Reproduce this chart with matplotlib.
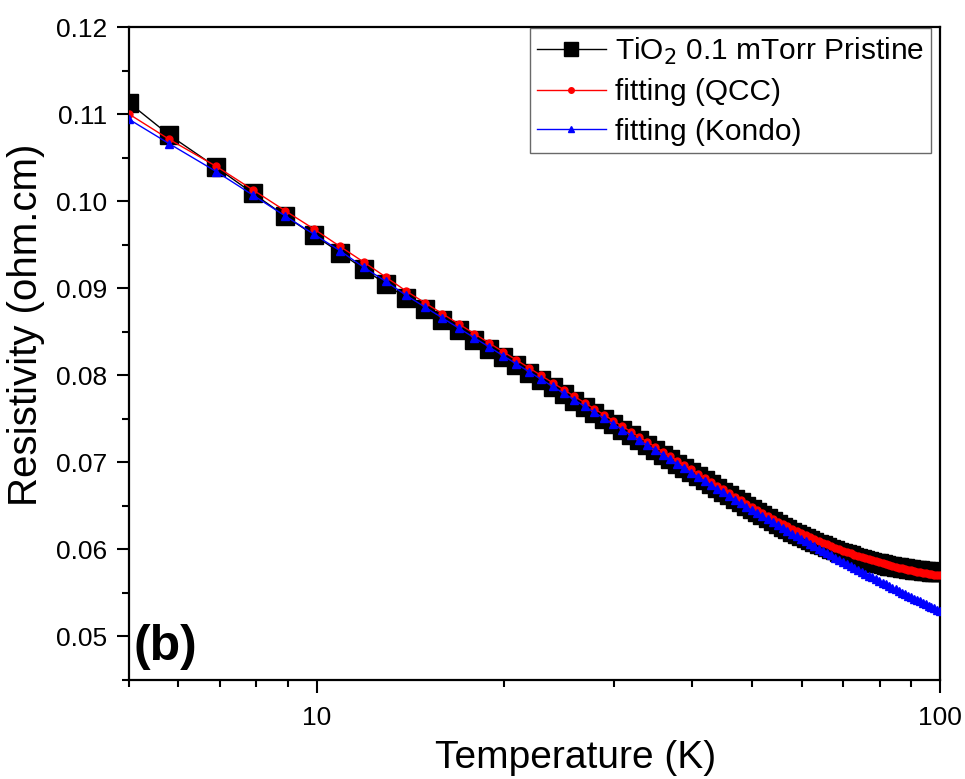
import matplotlib
matplotlib.use("Agg")
import matplotlib.pyplot as plt
from matplotlib.ticker import FixedLocator, NullFormatter

plt.rcParams['font.family'] = ['Liberation Sans', 'DejaVu Sans']

# temperatures (K), same grid for data and both fits
temps = [5.0, 5.8, 6.9, 7.9, 8.9, 9.9, 10.9, 11.9, 12.9, 13.9,
         14.9, 15.9, 16.9, 17.9, 18.9, 19.9, 20.9, 21.9, 22.9, 23.9,
         24.9, 25.9, 26.9, 27.9, 28.9, 29.9, 30.9, 31.9, 32.9, 33.9,
         34.9, 35.9, 36.9, 37.9, 38.9, 39.9, 40.9, 41.9, 42.9, 43.9,
         44.9, 45.9, 46.9, 47.9, 48.9, 49.9, 50.9, 51.9, 52.9, 53.9,
         54.9, 55.9, 56.9, 57.9, 58.9, 59.9, 60.9, 61.9, 62.9, 63.9,
         64.9, 65.9, 66.9, 67.9, 68.9, 69.9, 70.9, 71.9, 72.9, 73.9,
         74.9, 75.9, 76.9, 77.9, 78.9, 79.9, 80.9, 81.9, 82.9, 83.9,
         84.9, 85.9, 86.9, 87.9, 88.9, 89.9, 90.9, 91.9, 92.9, 93.9,
         94.9, 95.9, 96.9, 97.9, 98.9, 99.9]

rho_data = [0.1113, 0.1076, 0.1039, 0.1009, 0.0983, 0.0961, 0.0941, 0.0922, 0.0905, 0.0889,
            0.08758, 0.08635, 0.08519, 0.08410, 0.08307, 0.08209, 0.08116, 0.08027, 0.07943, 0.07861,
            0.07784, 0.07709, 0.07637, 0.07568, 0.07501, 0.07436, 0.07374, 0.07313, 0.07255, 0.07198,
            0.07143, 0.07089, 0.07037, 0.06986, 0.06937, 0.06889, 0.06842, 0.06796, 0.06751, 0.06707,
            0.06665, 0.06623, 0.06582, 0.06542, 0.06503, 0.06464, 0.06426, 0.06390, 0.06356, 0.06323,
            0.06291, 0.06262, 0.06233, 0.06205, 0.06179, 0.06154, 0.06130, 0.06108, 0.06086, 0.06065,
            0.06045, 0.06026, 0.06008, 0.05991, 0.05975, 0.05959, 0.05944, 0.05930, 0.05916, 0.05903,
            0.05891, 0.05880, 0.05869, 0.05858, 0.05848, 0.05839, 0.05830, 0.05822, 0.05814, 0.05806,
            0.05799, 0.05793, 0.05787, 0.05781, 0.05776, 0.05771, 0.05766, 0.05762, 0.05758, 0.05755,
            0.05751, 0.05749, 0.05746, 0.05744, 0.05742, 0.05740]

rho_qcc = [0.1100, 0.1071, 0.1040, 0.1013, 0.0989, 0.0968, 0.0948, 0.0930, 0.0913, 0.0897,
           0.08835, 0.08708, 0.08590, 0.08478, 0.08372, 0.08272, 0.08177, 0.08086, 0.07999, 0.07915,
           0.07836, 0.07759, 0.07685, 0.07614, 0.07546, 0.07480, 0.07415, 0.07354, 0.07294, 0.07235,
           0.07179, 0.07124, 0.07071, 0.07019, 0.06968, 0.06918, 0.06870, 0.06823, 0.06777, 0.06732,
           0.06689, 0.06646, 0.06604, 0.06563, 0.06523, 0.06483, 0.06448, 0.06414, 0.06382, 0.06351,
           0.06320, 0.06292, 0.06264, 0.06237, 0.06212, 0.06187, 0.06163, 0.06141, 0.06118, 0.06098,
           0.06077, 0.06058, 0.06039, 0.06021, 0.06004, 0.05987, 0.05971, 0.05955, 0.05940, 0.05926,
           0.05912, 0.05899, 0.05886, 0.05874, 0.05862, 0.05851, 0.05840, 0.05829, 0.05819, 0.05810,
           0.05800, 0.05792, 0.05783, 0.05775, 0.05767, 0.05760, 0.05752, 0.05746, 0.05739, 0.05733,
           0.05727, 0.05721, 0.05716, 0.05711, 0.05706, 0.05701]

rho_kondo = [0.1094, 0.1066, 0.1034, 0.1007, 0.0983, 0.0962, 0.0943, 0.0924, 0.0908, 0.0892,
             0.08786, 0.08660, 0.08542, 0.08431, 0.08326, 0.08226, 0.08132, 0.08042, 0.07955, 0.07872,
             0.07793, 0.07717, 0.07644, 0.07573, 0.07505, 0.07440, 0.07376, 0.07314, 0.07255, 0.07197,
             0.07141, 0.07086, 0.07033, 0.06982, 0.06931, 0.06882, 0.06834, 0.06788, 0.06742, 0.06697,
             0.06654, 0.06611, 0.06570, 0.06529, 0.06489, 0.06450, 0.06417, 0.06381, 0.06346, 0.06311,
             0.06278, 0.06245, 0.06214, 0.06182, 0.06152, 0.06122, 0.06093, 0.06064, 0.06036, 0.06009,
             0.05982, 0.05956, 0.05930, 0.05905, 0.05880, 0.05856, 0.05833, 0.05809, 0.05786, 0.05764,
             0.05741, 0.05720, 0.05699, 0.05678, 0.05657, 0.05637, 0.05617, 0.05597, 0.05578, 0.05559,
             0.05540, 0.05522, 0.05504, 0.05486, 0.05469, 0.05452, 0.05435, 0.05418, 0.05402, 0.05385,
             0.05369, 0.05354, 0.05338, 0.05323, 0.05308, 0.05293]

y_major = [0.05, 0.06, 0.07, 0.08, 0.09, 0.10, 0.11, 0.12]
y_minor = [0.045, 0.055, 0.065, 0.075, 0.085, 0.095, 0.105, 0.115]
x_minor = [5, 6, 7, 8, 9, 20, 30, 40, 50, 60, 70, 80, 90]

fig = plt.figure(figsize=(9.65, 7.79), dpi=100)
ax = fig.add_axes([0.1337, 0.1271, 0.8404, 0.8382])

ax.plot(temps, rho_data, color='black', lw=1.0, marker='s', ms=12.5,
        label=r'TiO$_2$ 0.1 mTorr Pristine', zorder=2)
ax.plot(temps, rho_qcc, color='red', lw=1.0, marker='o', ms=5,
        label='fitting (QCC)', zorder=3)
ax.plot(temps, rho_kondo, color='blue', lw=1.0, marker='^', ms=6,
        label='fitting (Kondo)', zorder=4)

ax.set_xscale('log')
ax.set_xlim(5, 100)
ax.set_ylim(0.045, 0.12)

ax.xaxis.set_major_locator(FixedLocator([10, 100]))
ax.set_xticklabels(['10', '100'])
ax.xaxis.set_minor_locator(FixedLocator(x_minor))
ax.xaxis.set_minor_formatter(NullFormatter())
ax.yaxis.set_major_locator(FixedLocator(y_major))
ax.set_yticklabels(['%.2f' % v for v in y_major])
ax.yaxis.set_minor_locator(FixedLocator(y_minor))

for s in ax.spines.values():
    s.set_linewidth(1.6)
ax.tick_params(which='major', direction='out', length=9, width=1.5, labelsize=19)
ax.tick_params(which='minor', direction='out', length=5, width=1.5)
ax.tick_params(axis='x', pad=10)
ax.tick_params(axis='y', pad=7)

ax.set_xlabel('Temperature (K)', fontsize=28)
ax.set_ylabel('Resistivity (ohm.cm)', fontsize=29)
ax.xaxis.set_label_coords(0.551, -0.092)
ax.yaxis.set_label_coords(-0.104, 0.544)

ax.text(0.006, 0.015, '(b)', transform=ax.transAxes, fontsize=36,
        fontweight='bold', ha='left', va='bottom')

leg = ax.legend(loc='upper right', bbox_to_anchor=(0.989, 0.998), fontsize=21.5,
                frameon=True, fancybox=False, edgecolor='#444444',
                borderaxespad=0.0, handlelength=2.3, borderpad=0.25,
                labelspacing=0.38, handletextpad=0.3, markerscale=0.8)
leg.get_frame().set_linewidth(1.0)

fig.savefig('out.png', dpi=100)
